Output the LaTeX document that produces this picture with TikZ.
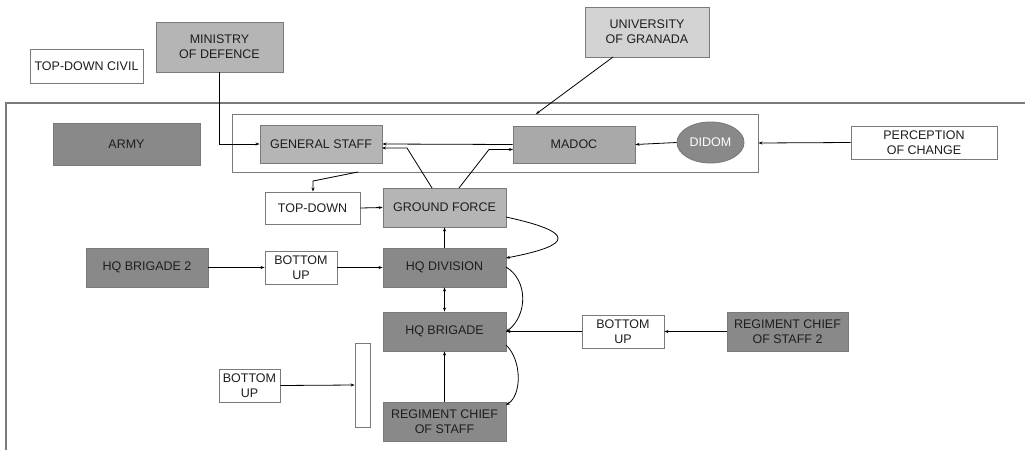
\documentclass[tikz,border=0pt]{standalone}
\usepackage{fontspec}
\setmainfont{Liberation Sans}
\usetikzlibrary{arrows.meta,shapes.geometric}
\definecolor{lightg}{HTML}{B5B5B5}
\definecolor{midg}{HTML}{A9A9A9}
\definecolor{darkg}{HTML}{898989}
\definecolor{univg}{HTML}{D3D3D3}
\definecolor{edgeg}{HTML}{7A7A7A}
\definecolor{txt}{HTML}{1E1E1E}
\begin{document}
\begin{tikzpicture}[x=1pt,y=-1pt,
  box/.style={draw=edgeg,line width=0.9pt,inner sep=0pt,align=center,text=txt,
    font=\fontsize{12.5}{15}\selectfont},
  wbox/.style={box,fill=white},
  lbox/.style={box,fill=lightg},
  mbox/.style={box,fill=midg},
  dbox/.style={box,fill=darkg},
  ubox/.style={box,fill=univg},
  sz/.style 2 args={minimum width=#1pt,minimum height=#2pt},
  arr/.style={draw=black,line width=0.8pt,-{Stealth[length=4pt,width=3pt]}},
  darr/.style={draw=black,line width=0.8pt,{Stealth[length=4pt,width=3pt]}-{Stealth[length=4pt,width=3pt]}},
  framel/.style={draw=edgeg,line width=1.2pt}
]
\useasboundingbox (0,0) rectangle (1025,450);
\fill[white] (0,0) rectangle (1025,450);
% outer frame
\draw[framel] (1025,103) -- (6,103) -- (6,450);
% inner frame
\node[draw=edgeg,line width=1pt,sz={526}{58},inner sep=0pt] (inner) at (495,143) {};
% nodes
\node[wbox,sz={113}{34}] (civil) at (86.5,66) {TOP-DOWN CIVIL};
\node[lbox,sz={127}{50}] (mod) at (219.5,47) {MINISTRY\\OF DEFENCE};
\node[ubox,sz={124}{50}] (univ) at (647,32) {UNIVERSITY\\OF GRANADA};
\node[dbox,sz={147}{42}] (army) at (126.5,144) {ARMY};
\node[lbox,sz={122}{38}] (gs) at (321,144) {GENERAL STAFF};
\node[mbox,sz={122}{37}] (madoc) at (574,144.5) {MADOC};
\node[ellipse,draw=edgeg,line width=0.9pt,fill=darkg,text=white,inner sep=0pt,
  font=\fontsize{12.5}{15}\selectfont,sz={67}{41}] (didom) at (710.5,142.5) {DIDOM};
\node[wbox,sz={146}{33}] (perc) at (924,142.5) {PERCEPTION\\OF CHANGE};
\node[wbox,sz={95}{32}] (topdown) at (312.5,208) {TOP-DOWN};
\node[lbox,sz={123}{39}] (gf) at (444.5,207.5) {GROUND FORCE};
\node[dbox,sz={122}{39}] (hqb2) at (147,267.5) {HQ BRIGADE 2};
\node[wbox,sz={72}{33}] (bu1) at (301,267.5) {BOTTOM\\UP};
\node[dbox,sz={123}{39}] (hqd) at (444.5,267.5) {HQ DIVISION};
\node[dbox,sz={123}{39}] (hqb) at (444.5,331.5) {HQ BRIGADE};
\node[wbox,sz={82}{33}] (bu3) at (623,331.5) {BOTTOM\\UP};
\node[dbox,sz={121}{39}] (rcs2) at (787.5,331.5) {REGIMENT CHIEF\\OF STAFF 2};
\node[wbox,sz={61}{33}] (bu2) at (249.5,385.5) {BOTTOM\\UP};
\node[wbox,sz={15}{84}] (bar) at (362.5,385) {};
\node[dbox,sz={123}{39}] (rcs) at (444.5,421.5) {REGIMENT CHIEF\\OF STAFF};
% helper coordinates
\coordinate (u1) at (613,57);
\coordinate (u2) at (536,114);
\coordinate (g1) at (432,188);
\coordinate (g2) at (407,148);
\coordinate (g3) at (382,148);
\coordinate (m1) at (459,188);
\coordinate (m2) at (489,149.5);
\coordinate (m3) at (513,149.5);
\coordinate (t1) at (358,172);
\coordinate (t2) at (313,181);
\coordinate (c1s) at (506,217);
\coordinate (c1e) at (506,258);
\coordinate (c2s) at (506,267);
\coordinate (c2e) at (506,332);
\coordinate (c3s) at (506,345);
\coordinate (c3e) at (506,405);
% connectors
\draw[arr] (mod.south) |- (gs.west);
\draw[arr] (u1) -- (u2);
\draw[arr] (madoc.west) -- (gs.east);
\draw[arr] (g1) -- (g2) -- (g3);
\draw[arr] (m1) -- (m2) -- (m3);
\draw[arr] (didom.west) -- (madoc.east);
\draw[arr] (perc.west) -- (inner.east);
\draw[arr] (t1) -- (t2) -- (topdown.north -| t2);
\draw[arr] (topdown.east) -- (gf.west);
\draw[arr] (hqb2.east) -- (bu1.west);
\draw[arr] (bu1.east) -- (hqd.west);
\draw[arr] (hqd.north) -- (gf.south);
\draw[darr] (hqd.south) -- (hqb.north);
\draw[arr] (rcs.north) -- (hqb.south);
\draw[arr] (rcs2.west) -- (bu3.east);
\draw[arr] (bu3.west) -- (hqb.east);
\draw[arr] (bu2.east) -- (bar.west);
\draw[arr] (c1s) .. controls (575,232) and (575,245) .. (c1e);
\draw[arr] (c2s) .. controls (528,280) and (528,315) .. (c2e);
\draw[arr] (c3s) .. controls (522,360) and (522,395) .. (c3e);
\end{tikzpicture}
\end{document}
